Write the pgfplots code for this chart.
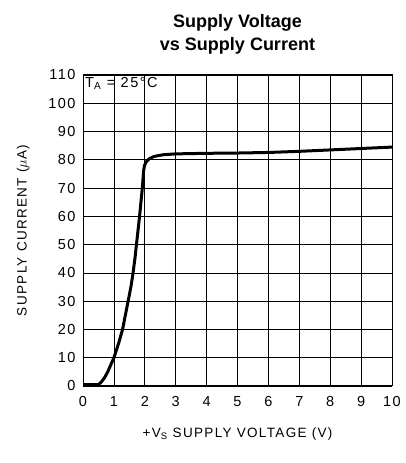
\documentclass[border=0pt]{standalone}
\usepackage{fontspec}
\setmainfont[LetterSpace=10]{Liberation Sans}
\newfontfamily\titlefont{Liberation Sans}
\usepackage{pgfplots}
\pgfplotsset{compat=1.18}
\begin{document}
\begin{tikzpicture}[x=1pt,y=1pt]
\path (0,0) rectangle (405,463);
\node[font=\titlefont\bfseries\fontsize{18}{23}\selectfont, align=center] at (237.5,429) {Supply Voltage\\vs Supply Current};
\begin{axis}[
  at={(83pt,77pt)}, anchor=south west,
  scale only axis, width=309pt, height=311pt,
  xmin=0, xmax=10, ymin=0, ymax=110,
  xtick={0,1,...,10}, ytick={0,10,...,110},
  grid=major, major grid style={black, line width=0.7pt},
  axis line style={black, line width=1pt},
  tick style={draw=none},
  /pgf/number format/assume math mode=true,
  ticklabel style={font=\fontsize{14.5}{16}\selectfont},
  xticklabel style={yshift=-7pt},
  yticklabel style={xshift=-4pt},
  xlabel={+V\textsubscript{S} SUPPLY VOLTAGE (V)},
  ylabel={SUPPLY CURRENT ($\mu$A)},
  label style={font=\fontsize{13.5}{16}\selectfont},
  xlabel style={yshift=-14pt},
  ylabel style={yshift=12pt},
  clip=false,
]
\addplot[black, line width=3pt, line join=round] coordinates {
(0,0.5) (0.5,0.5) (0.6,1.5) (0.7,3) (0.8,5) (0.9,7.5) (1,10) (1.15,15) (1.28,20) (1.37,25) (1.46,30) (1.55,35) (1.62,40) (1.68,45) (1.73,50) (1.83,60) (1.92,70) (1.96,76) (1.99,78) (2.05,79.4) (2.15,80.4) (2.3,81.2) (2.6,81.8) (3,82.1) (4,82.3) (5,82.4) (6,82.6) (7,83) (8,83.5) (9,84) (10,84.5)
};
\node[anchor=north west, font=\fontsize{14.5}{16}\selectfont, inner sep=2pt] at (axis cs:0,110) {T\textsubscript{A} = 25°C};
\end{axis}
\end{tikzpicture}
\end{document}
